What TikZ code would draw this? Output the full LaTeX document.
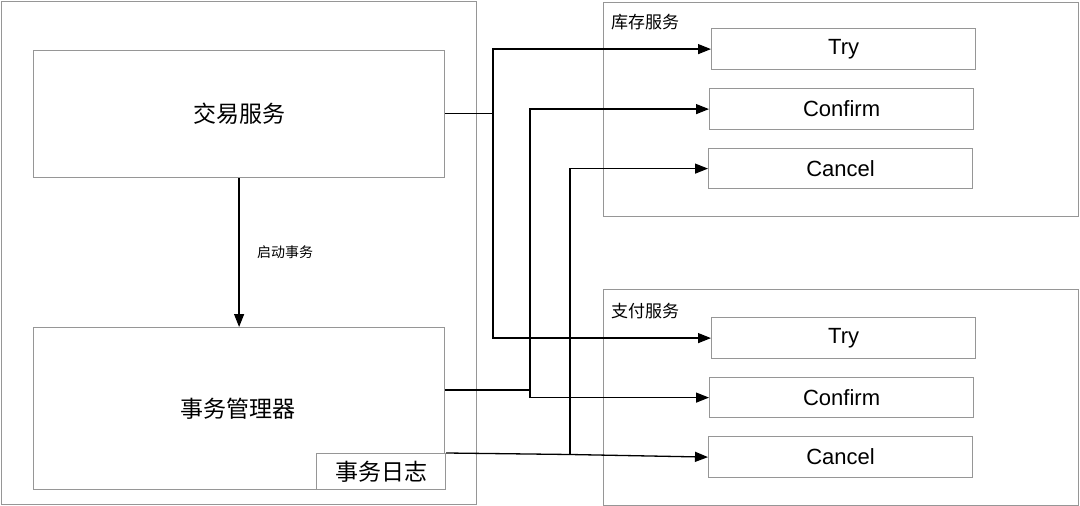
\documentclass[tikz,border=0pt]{standalone}
\usepackage{fontspec}
\setmainfont{Liberation Sans}
\newfontfamily\cjk{Noto Sans CJK SC}
\usetikzlibrary{arrows.meta,calc}
\definecolor{boxgray}{RGB}{150,150,150}
\tikzset{
  box/.style={draw=boxgray, line width=1.2pt, fill=white, rectangle, inner sep=0pt, anchor=north west},
  bigcjk/.style={font=\cjk\fontsize{23}{26}\selectfont},
  opbox/.style={box, minimum width=264pt, font=\fontsize{22}{24}\selectfont},
  conn/.style={draw=black, line width=1.3pt},
  arr/.style={conn, -{Triangle[length=13pt,width=10pt]}}
}
\begin{document}
\begin{tikzpicture}[x=1pt,y=-1pt]
\useasboundingbox (0,0) rectangle (1080,506);
% outer containers
\node[box, minimum width=475pt, minimum height=503pt] (outerL) at (1,1) {};
\node[box, minimum width=475pt, minimum height=214pt] (kucun) at (603,2) {};
\node[box, minimum width=475pt, minimum height=216pt] (zhifu) at (603,289) {};
\node[anchor=west, inner sep=0pt, font=\cjk\fontsize{17}{20}\selectfont] (kucunlbl) at (611,22) {库存服务};
\node[anchor=west, inner sep=0pt, font=\cjk\fontsize{17}{20}\selectfont] (zhifulbl) at (611,311) {支付服务};
% left boxes
\node[box, minimum width=411pt, minimum height=127pt, bigcjk] (jiaoyi) at (33,50) {交易服务};
\node[box, minimum width=411pt, minimum height=162pt] (mgr) at (33,327) {};
\node[bigcjk] (mgrlbl) at (238,409) {事务管理器};
\node[box, minimum width=129pt, minimum height=36pt, bigcjk] (log) at (316,453) {事务日志};
% right operation boxes
\node[opbox, minimum height=41pt] (try1) at (711,28) {\raisebox{-2pt}{Try}};
\node[opbox, minimum height=41pt] (conf1) at (709,88) {Confirm};
\node[opbox, minimum height=40pt] (canc1) at (708,148) {Cancel};
\node[opbox, minimum height=41pt] (try2) at (711,317) {\raisebox{-2pt}{Try}};
\node[opbox, minimum height=40pt] (conf2) at (709,377) {Confirm};
\node[opbox, minimum height=41pt] (canc2) at (708,436) {Cancel};
% start transaction arrow
\draw[arr] (jiaoyi.south) -- (mgr.north) node[midway, right=14pt, font=\cjk\fontsize{14}{16}\selectfont] (startlbl) {启动事务};
% junctions
\coordinate (j1) at (493,113.5);
\coordinate (j2) at (530,390);
\coordinate (j3) at (570,454.5);
\draw[conn] (j1 -| jiaoyi.east) -- (j1);
\draw[arr] (j1) |- (try1.west);
\draw[arr] (j1) |- (try2.west);
\draw[conn] (j2 -| mgr.east) -- (j2);
\draw[arr] (j2) |- (conf1.west);
\draw[arr] (j2) |- (conf2.west);
\draw[conn] (log.north east) -- (j3);
\draw[arr] (j3) -- (canc2.west);
\draw[arr] (j3) |- (canc1.west);
\end{tikzpicture}
\end{document}
